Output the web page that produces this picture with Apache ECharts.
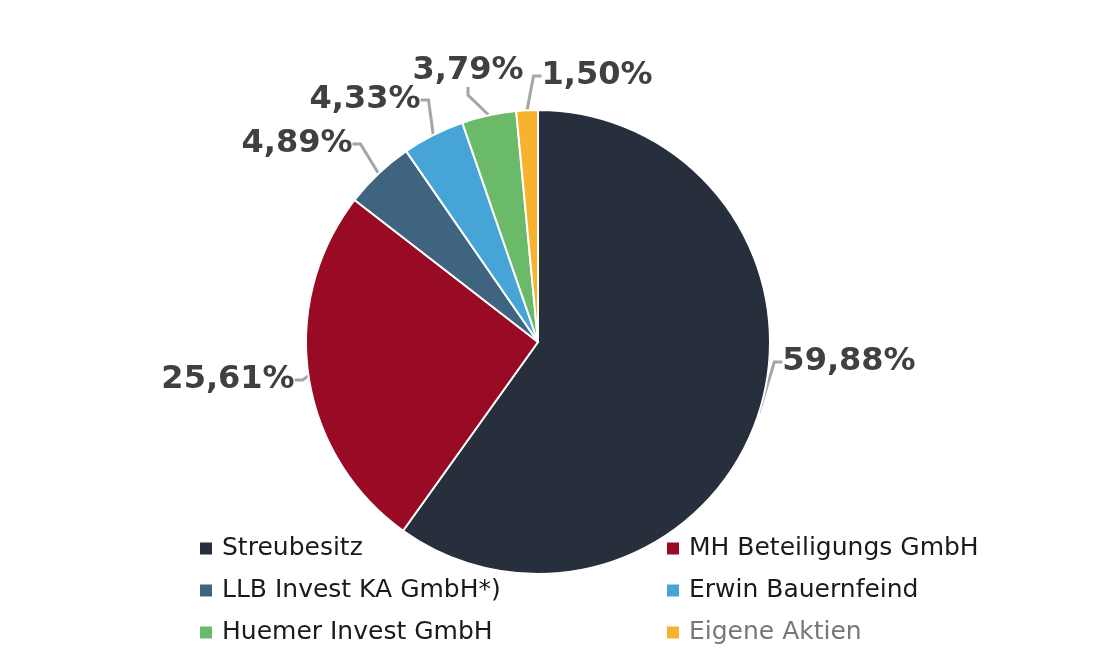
<!DOCTYPE html>
<html>
<head>
<meta charset="utf-8">
<script src="https://cdn.jsdelivr.net/npm/echarts@6/dist/echarts.min.js"></script>
<style>
  html, body { margin: 0; padding: 0; background: #fff; }
  #chart { width: 1110px; height: 663px; }
</style>
</head>
<body>
<div id="chart"></div>
<script>
// Aktionärsstruktur
const aktionaere = [
  "Streubesitz",
  "MH Beteiligungs GmbH",
  "LLB Invest KA GmbH*)",
  "Erwin Bauernfeind",
  "Huemer Invest GmbH",
  "Eigene Aktien"
];
const anteile = [59.88, 25.61, 4.89, 4.33, 3.79, 1.50];
const farben = ["#262f3b", "#990b24", "#3f6480", "#46a5d6", "#6bba6a", "#f9b22d"];

// Legende in zwei Spalten
const spalteLinks = [aktionaere[0], aktionaere[2], aktionaere[4]];
const spalteRechts = [aktionaere[1], aktionaere[3], aktionaere[5]];

// Lage der Beschriftungen (Mittelpunkt), wie im Original von Hand verschoben
const labelMitte = [[849, 362], [228, 380], [297, 144], [365, 100], [468, 71], [597, 76]];

const chart = echarts.init(document.getElementById("chart"));

const legendBase = {
  orient: "vertical",
  top: 536,
  padding: 0,
  icon: "rect",
  itemWidth: 14,
  itemHeight: 14,
  itemGap: 17,
  textStyle: {
    fontFamily: "DejaVu Sans",
    fontSize: 25,
    color: "#1a1a1a",
    lineHeight: 25,
    padding: [0, 0, 0, 4]
  }
};

const option = {
  backgroundColor: "#fff",
  color: farben,
  legend: [
    Object.assign({}, legendBase, { left: 198, data: spalteLinks }),
    Object.assign({}, legendBase, {
      left: 665,
      data: spalteRechts.map((n) =>
        n === "Eigene Aktien" ? { name: n, textStyle: { color: "#777" } } : n
      )
    })
  ],
  series: [
    {
      type: "pie",
      center: [538, 342],
      radius: 232,
      startAngle: 90,
      clockwise: true,
      silent: true,
      avoidLabelOverlap: false,
      itemStyle: { borderColor: "#fff", borderWidth: 2 },
      label: {
        show: true,
        position: "outside",
        fontFamily: "DejaVu Sans",
        fontWeight: "bold",
        fontSize: 32,
        color: "#404040",
        formatter: (p) => p.value.toFixed(2).replace(".", ",") + "%"
      },
      labelLine: {
        show: true,
        length: 18,
        length2: 8,
        lineStyle: { color: "#a6a6a6", width: 3 }
      },
      labelLayout: (p) => ({
        x: labelMitte[p.dataIndex][0],
        y: labelMitte[p.dataIndex][1],
        align: "center",
        verticalAlign: "middle"
      }),
      data: aktionaere.map((n, i) => ({ name: n, value: anteile[i] }))
    }
  ]
};

chart.setOption(option);
</script>
</body>
</html>
